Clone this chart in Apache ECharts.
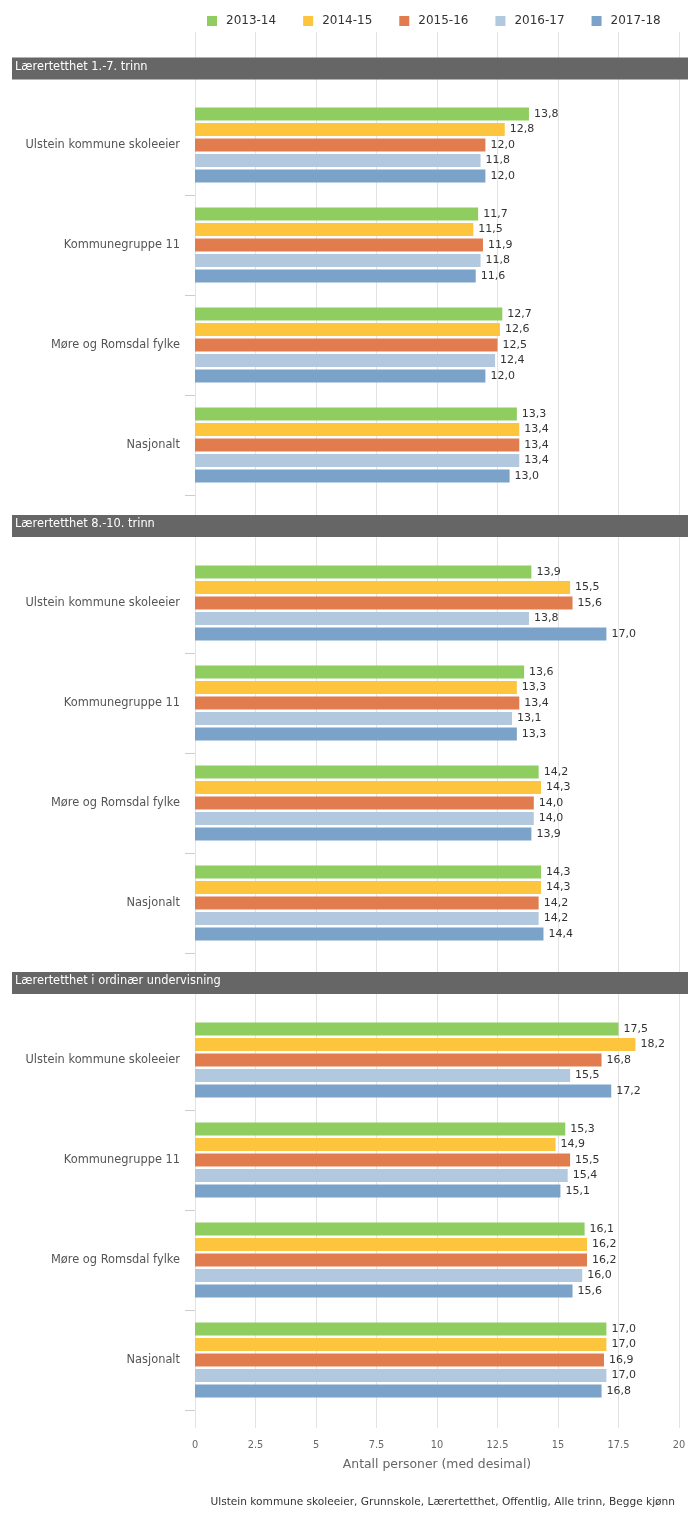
<!DOCTYPE html>
<html>
<head>
<meta charset="utf-8">
<script src="https://cdn.jsdelivr.net/npm/echarts@6/dist/echarts.min.js"></script>
<style>
html,body{margin:0;padding:0;background:#fff;}
#chart{width:700px;height:1519px;}
</style>
</head>
<body>
<div id="chart"></div>
<script>
var years = ['2013-14', '2014-15', '2015-16', '2016-17', '2017-18'];
var categories = ['Ulstein kommune skoleeier', 'Kommunegruppe 11', 'Møre og Romsdal fylke', 'Nasjonalt'];
var panelTitles = ['Lærertetthet 1.-7. trinn', 'Lærertetthet 8.-10. trinn', 'Lærertetthet i ordinær undervisning'];
var xTicks = [0, 2.5, 5, 7.5, 10, 12.5, 15, 17.5, 20];

// values per year, categories in order above
var panel1 = [
  [13.8, 11.7, 12.7, 13.3],
  [12.8, 11.5, 12.6, 13.4],
  [12.0, 11.9, 12.5, 13.4],
  [11.8, 11.8, 12.4, 13.4],
  [12.0, 11.6, 12.0, 13.0]
];
var panel2 = [
  [13.9, 13.6, 14.2, 14.3],
  [15.5, 13.3, 14.3, 14.3],
  [15.6, 13.4, 14.0, 14.2],
  [13.8, 13.1, 14.0, 14.2],
  [17.0, 13.3, 13.9, 14.4]
];
var panel3 = [
  [17.5, 15.3, 16.1, 17.0],
  [18.2, 14.9, 16.2, 17.0],
  [16.8, 15.5, 16.2, 16.9],
  [15.5, 15.4, 16.0, 17.0],
  [17.2, 15.1, 15.6, 16.8]
];
var panels = [panel1, panel2, panel3];
var colors = ['#8fcd60', '#fdc43e', '#e17c4e', '#b1c8de', '#7ba3c9'];

var FONT = '"DejaVu Sans", sans-serif';
var gridLeft = 195, gridRight = 21;
var panelTops = [95, 553, 1010];
var headerTops = [57.5, 515, 972];

var grids = [{left: gridLeft, right: gridRight, top: 32, height: 1396}];
var xAxes = [{
  type: 'value', gridIndex: 0, min: 0, max: 20, interval: 2.5,
  axisLine: {show: false}, axisTick: {show: false},
  splitLine: {show: true, lineStyle: {color: '#e3e3e3', width: 1}},
  axisLabel: {color: '#666', fontSize: 9.8, fontFamily: FONT, margin: 12,
    formatter: function (v) { return xTicks.indexOf(v) >= 0 ? String(v) : ''; }},
  name: 'Antall personer (med desimal)', nameLocation: 'middle', nameGap: 31,
  nameTextStyle: {color: '#666', fontSize: 12.4, fontFamily: FONT}
}];
var yAxes = [{type: 'value', gridIndex: 0, show: false, min: 0, max: 1}];

panelTops.forEach(function (t, i) {
  grids.push({left: gridLeft, right: gridRight, top: t, height: 400});
  xAxes.push({type: 'value', gridIndex: i + 1, min: 0, max: 20, show: false,
    splitLine: {show: false}});
  yAxes.push({
    type: 'category', gridIndex: i + 1, data: categories, inverse: true,
    axisLine: {show: false},
    axisTick: {show: true, length: 10, lineStyle: {color: '#ccc'},
      interval: function (idx) { return idx > 0; }},
    axisLabel: {color: '#555', fontSize: 11.4, fontFamily: FONT, margin: 15, interval: 0},
    splitLine: {show: false}
  });
});

var series = [];
panels.forEach(function (panel, p) {
  panel.forEach(function (vals, y) {
    series.push({
      type: 'bar', name: years[y], xAxisIndex: p + 1, yAxisIndex: p + 1,
      data: vals, barWidth: 13, barGap: '19%',
      itemStyle: {color: colors[y]},
      label: {show: true, position: 'right', distance: 5, color: '#333',
        fontSize: 11, fontFamily: FONT,
        formatter: function (d) { return d.value.toFixed(1).replace('.', ','); }}
    });
  });
});

var graphics = [];
headerTops.forEach(function (t, i) {
  graphics.push({type: 'rect', left: 12, top: t, z: 50,
    shape: {width: 676, height: 22}, style: {fill: '#666666'}});
  graphics.push({type: 'text', left: 15, top: t + 4, z: 51,
    style: {text: panelTitles[i], fill: '#fff', fontSize: 11.4, fontFamily: FONT}});
});
graphics.push({type: 'text', right: 25, top: 1497, z: 51,
  style: {text: 'Ulstein kommune skoleeier, Grunnskole, Lærertetthet, Offentlig, Alle trinn, Begge kjønn',
    fill: '#333', fontSize: 10.6, fontFamily: FONT}});

var chart = echarts.init(document.getElementById('chart'), null, {renderer: 'canvas'});
chart.setOption({
  backgroundColor: '#fff',
  animation: false,
  legend: {
    data: years, left: 202, top: 10, itemWidth: 10, itemHeight: 10, itemGap: 27,
    icon: 'rect',
    textStyle: {color: '#333', fontSize: 12, fontFamily: FONT, padding: [0, 0, 0, 4]}
  },
  grid: grids,
  xAxis: xAxes,
  yAxis: yAxes,
  series: series,
  graphic: graphics
});
</script>
</body>
</html>
